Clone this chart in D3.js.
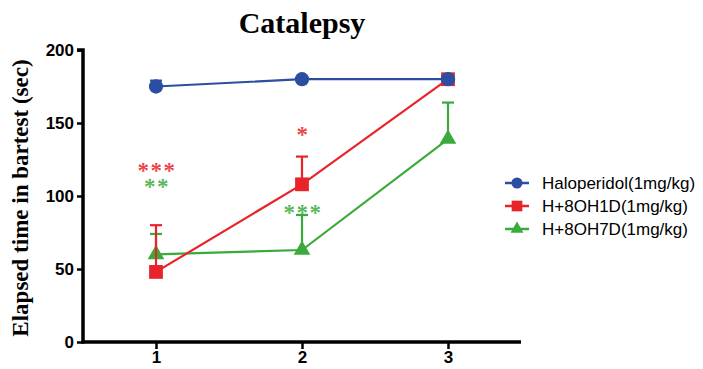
<!DOCTYPE html>
<html lang="en">
<head>
  <meta charset="UTF-8">
  <title>Catalepsy</title>
  <script src="https://d3js.org/d3.v7.min.js"></script>
  <style>
    body { margin: 0; background: #fff; }
    .tick text { font: bold 17px "Liberation Sans", Arial, sans-serif; fill: #000; }
  </style>
</head>
<body>
  <div id="chart"></div>
  <script>
    const width = 703, height = 369;

    const days = [1, 2, 3];
    const yTicks = [0, 50, 100, 150, 200];
    const names = ["Haloperidol(1mg/kg)", "H+8OH1D(1mg/kg)", "H+8OH7D(1mg/kg)"];
    const colors = ["#2b4ea2", "#e8232a", "#3aaa3c"];
    const halo = [175, 180, 180];
    const haloErr = [4, 0, 0];
    const oh1d = [48, 108, 180];
    const oh1dErr = [32, 19, 0];
    const oh7d = [60, 63, 139];
    const oh7dErr = [14, 24, 25];
    // significance stars: [day, series index, text, y value of star centre]
    const stars = [
      [1, 1, "***", 121],
      [1, 2, "**", 110],
      [2, 1, "*", 146],
      [2, 2, "***", 92]
    ];

    const margin = { left: 83, right: 182, top: 50, bottom: 27 };

    const svg = d3.select("#chart").append("svg")
      .attr("width", width)
      .attr("height", height);

    const x = d3.scaleLinear().domain([0.5, 3.5]).range([margin.left, width - margin.right]);
    const y = d3.scaleLinear().domain([0, 200]).range([height - margin.bottom, margin.top]);

    svg.append("text")
      .attr("x", 302).attr("y", 33)
      .attr("text-anchor", "middle")
      .style("font", "bold 30px 'Liberation Serif', 'Times New Roman', serif")
      .text("Catalepsy");

    svg.append("text")
      .attr("transform", `translate(28,${y(100) + 2}) rotate(-90)`)
      .attr("text-anchor", "middle")
      .style("font", "bold 23px 'Liberation Serif', 'Times New Roman', serif")
      .text("Elapsed time in bartest (sec)");

    const yAxis = svg.append("g")
      .attr("transform", `translate(${margin.left},0)`)
      .call(d3.axisLeft(y).tickValues(yTicks).tickSize(6).tickPadding(3));
    const xAxis = svg.append("g")
      .attr("transform", `translate(0,${y(0)})`)
      .call(d3.axisBottom(x).tickValues(days).tickSize(7).tickPadding(2).tickFormat(d3.format("d")));
    [xAxis, yAxis].forEach(a => {
      a.select(".domain").attr("stroke", "#000").attr("stroke-width", 3.5);
      a.selectAll(".tick line").attr("stroke", "#000").attr("stroke-width", 2.5);
    });
    yAxis.select(".domain").attr("d", `M-6,${y(200)}H0V${y(0) + 1.5}`);
    xAxis.select(".domain").attr("d", `M${margin.left - 1.5},0H${width - margin.right}`);

    const series = [
      { vals: halo, err: haloErr, shape: d3.symbolCircle, size: 160 },
      { vals: oh1d, err: oh1dErr, shape: d3.symbolSquare, size: 190 },
      { vals: oh7d, err: oh7dErr, shape: d3.symbolTriangle, size: 120 }
    ];

    const line = d3.line().x((d, i) => x(days[i])).y(d => y(d));

    // draw green first, then red, then blue on top
    [2, 1, 0].forEach(k => {
      const s = series[k];
      const g = svg.append("g");
      s.vals.forEach((v, i) => {
        if (!s.err[i]) return;
        const top = y(v + s.err[i]);
        g.append("line").attr("x1", x(days[i])).attr("x2", x(days[i]))
          .attr("y1", y(v)).attr("y2", top)
          .attr("stroke", colors[k]).attr("stroke-width", 2.2);
        g.append("line").attr("x1", x(days[i]) - 6).attr("x2", x(days[i]) + 6)
          .attr("y1", top).attr("y2", top)
          .attr("stroke", colors[k]).attr("stroke-width", 2.2);
      });
      g.append("path").attr("d", line(s.vals))
        .attr("fill", "none").attr("stroke", colors[k]).attr("stroke-width", 2.2);
      g.selectAll("path.pt").data(s.vals).enter().append("path")
        .attr("class", "pt")
        .attr("transform", (d, i) => `translate(${x(days[i])},${y(d)})`)
        .attr("d", d3.symbol().type(s.shape).size(s.size))
        .attr("fill", colors[k]);
    });

    svg.selectAll("text.star").data(stars).enter().append("text")
      .attr("class", "star")
      .attr("x", d => x(d[0]) + 1)
      .attr("y", d => y(d[3]) + 12.7)
      .attr("text-anchor", "middle")
      .attr("fill", d => colors[d[1]])
      .attr("fill-opacity", 0.85)
      .style("font", "bold 23px 'Liberation Serif', serif")
      .style("letter-spacing", "1.5px")
      .text(d => d[2]);

    const legend = svg.append("g");
    names.forEach((n, k) => {
      const ly = 183 + k * 23;
      legend.append("line").attr("x1", 505).attr("x2", 529).attr("y1", ly).attr("y2", ly)
        .attr("stroke", colors[k]).attr("stroke-width", 2.5);
      legend.append("path")
        .attr("transform", `translate(517,${ly})`)
        .attr("d", d3.symbol().type(series[k].shape).size(series[k].size * 0.6))
        .attr("fill", colors[k]);
      legend.append("text").attr("x", 542).attr("y", ly + 6)
        .style("font", "17px 'Liberation Sans', Arial, sans-serif")
        .text(n);
    });
  </script>
</body>
</html>
